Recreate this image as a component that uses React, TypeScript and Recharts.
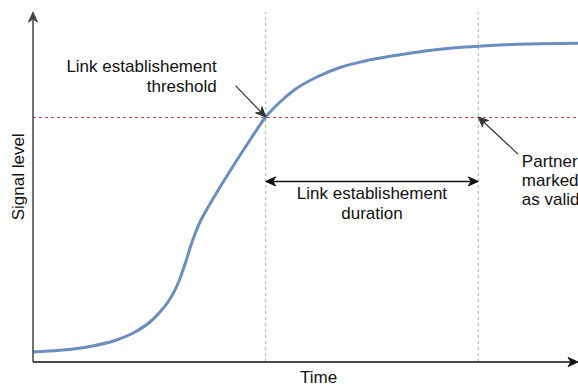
import React from 'react';
import { LineChart, Line, XAxis, YAxis, ReferenceLine, ReferenceDot } from 'recharts';

// curve (time 0..100, signal level 0..100)
const time = [0, 4.95, 10.46, 15.05, 18.72, 21.47, 23.3, 24.77, 25.87, 26.79, 27.52, 28.26, 28.81, 29.72, 30.64, 31.93, 33.39, 36.15, 39.82, 42.7, 45.32, 48.07, 52.11, 56.33, 60.92, 66.42, 71.93, 77.43, 81.7, 88.81, 100];
const signal = [2.86, 3.34, 4.43, 6.14, 8.57, 11.43, 14.29, 17.14, 20, 23.14, 26.29, 29.71, 32.57, 36.57, 40, 43.71, 47.57, 54.57, 63.43, 70, 74.29, 77.86, 81.43, 84.14, 86, 87.57, 88.86, 89.77, 90.23, 90.77, 91.06];

const threshold = 70;
const linkStart = 42.7;
const partnerValid = 81.7;
const durationLevel = 51.6;

const thresholdLabel = ['Link establishement', 'threshold'];
const durationLabel = ['Link establishement', 'duration'];
const partnerLabel = ['Partner', 'marked', 'as valid'];

const data = time.map((t, i) => ({ t, v: signal[i] }));

const FONT = '"Liberation Sans", Arial, Helvetica, sans-serif';
const TEXT = '#111';

const head = (x: number, y: number, ang: number, color: string) => {
  const len = 10, half = 4.5, notch = 3;
  const c = Math.cos(ang), s = Math.sin(ang);
  const pt = (dx: number, dy: number) => `${x + dx * c - dy * s},${y + dx * s + dy * c}`;
  return <polygon points={[pt(0, 0), pt(-len, -half), pt(-len + notch, 0), pt(-len, half)].join(' ')} fill={color} stroke={color} strokeWidth={1} />;
};

const arrow = (color: string, width: number, both = false) => (p: any) => {
  const { x1, y1, x2, y2 } = p;
  const ang = Math.atan2(y2 - y1, x2 - x1);
  const back = 7;
  const ex = x2 - Math.cos(ang) * back, ey = y2 - Math.sin(ang) * back;
  const sx = both ? x1 + Math.cos(ang) * back : x1;
  const sy = both ? y1 + Math.sin(ang) * back : y1;
  return (
    <g>
      <line x1={sx} y1={sy} x2={ex} y2={ey} stroke={color} strokeWidth={width} />
      {head(x2, y2, ang, color)}
      {both && head(x1, y1, ang + Math.PI, color)}
    </g>
  );
};

const textBlock = (lines: string[], anchor: 'start' | 'middle' | 'end', step: number) => (p: any) => (
  <text x={p.cx} y={p.cy} textAnchor={anchor} fontFamily={FONT} fontSize={17} fill={TEXT}>
    {lines.map((l, i) => (
      <tspan key={i} x={p.cx} dy={i === 0 ? 0 : step}>{l}</tspan>
    ))}
  </text>
);

const rotated = (label: string) => (p: any) => (
  <text x={p.cx} y={p.cy} transform={`rotate(-90 ${p.cx} ${p.cy})`} textAnchor="middle" fontFamily={FONT} fontSize={17} fill={TEXT}>
    {label}
  </text>
);

export default function App() {
  return (
    <div style={{ position: 'absolute', left: 0, top: 0, background: '#fff' }}>
      <LineChart width={578} height={387} data={data} margin={{ top: 12, right: 0, left: 0, bottom: 0 }}>
        <XAxis dataKey="t" type="number" domain={[0, 100]} height={25} tick={false} tickLine={false} axisLine={false} />
        <YAxis type="number" domain={[0, 100]} width={33} tick={false} tickLine={false} axisLine={false} />

        <ReferenceLine y={threshold} stroke="#b85450" strokeDasharray="3 3" strokeWidth={1} shapeRendering="crispEdges" ifOverflow="visible" />
        <ReferenceLine x={linkStart} stroke="#82b366" strokeOpacity={0.8} strokeDasharray="3 3" strokeWidth={1} ifOverflow="visible" />
        <ReferenceLine x={partnerValid} stroke="#82b366" strokeOpacity={0.8} strokeDasharray="3 3" strokeWidth={1} ifOverflow="visible" />

        <Line dataKey="v" type="monotone" stroke="#6c8ebf" strokeWidth={3} dot={false} activeDot={false} isAnimationActive={false} />

        {/* axes with arrow heads */}
        <ReferenceLine segment={[{ x: 0, y: 0 }, { x: 0, y: 100 }]} ifOverflow="visible" shape={arrow('#444', 1.5)} />
        <ReferenceLine segment={[{ x: 0, y: 0 }, { x: 100, y: 0 }]} ifOverflow="visible" shape={arrow('#111', 1.5)} />

        {/* annotation arrows */}
        <ReferenceLine segment={[{ x: 37.2, y: 78.9 }, { x: linkStart, y: threshold }]} ifOverflow="visible" shape={arrow('#333', 1.2)} />
        <ReferenceLine segment={[{ x: linkStart, y: durationLevel }, { x: partnerValid, y: durationLevel }]} ifOverflow="visible" shape={arrow('#111', 1.5, true)} />
        <ReferenceLine segment={[{ x: 89.0, y: 59.4 }, { x: partnerValid, y: threshold }]} ifOverflow="visible" shape={arrow('#333', 1.2)} />

        {/* texts */}
        <ReferenceDot x={33.7} y={82.9} r={0} ifOverflow="visible" shape={textBlock(thresholdLabel, 'end', 20)} />
        <ReferenceDot x={62.2} y={46.6} r={0} ifOverflow="visible" shape={textBlock(durationLabel, 'middle', 20)} />
        <ReferenceDot x={89.7} y={55.7} r={0} ifOverflow="visible" shape={textBlock(partnerLabel, 'start', 19)} />
        <ReferenceDot x={52.4} y={-6} r={0} ifOverflow="visible" shape={textBlock(['Time'], 'middle', 0)} />
        <ReferenceDot x={-1.56} y={52.9} r={0} ifOverflow="visible" shape={rotated('Signal level')} />
      </LineChart>
    </div>
  );
}
